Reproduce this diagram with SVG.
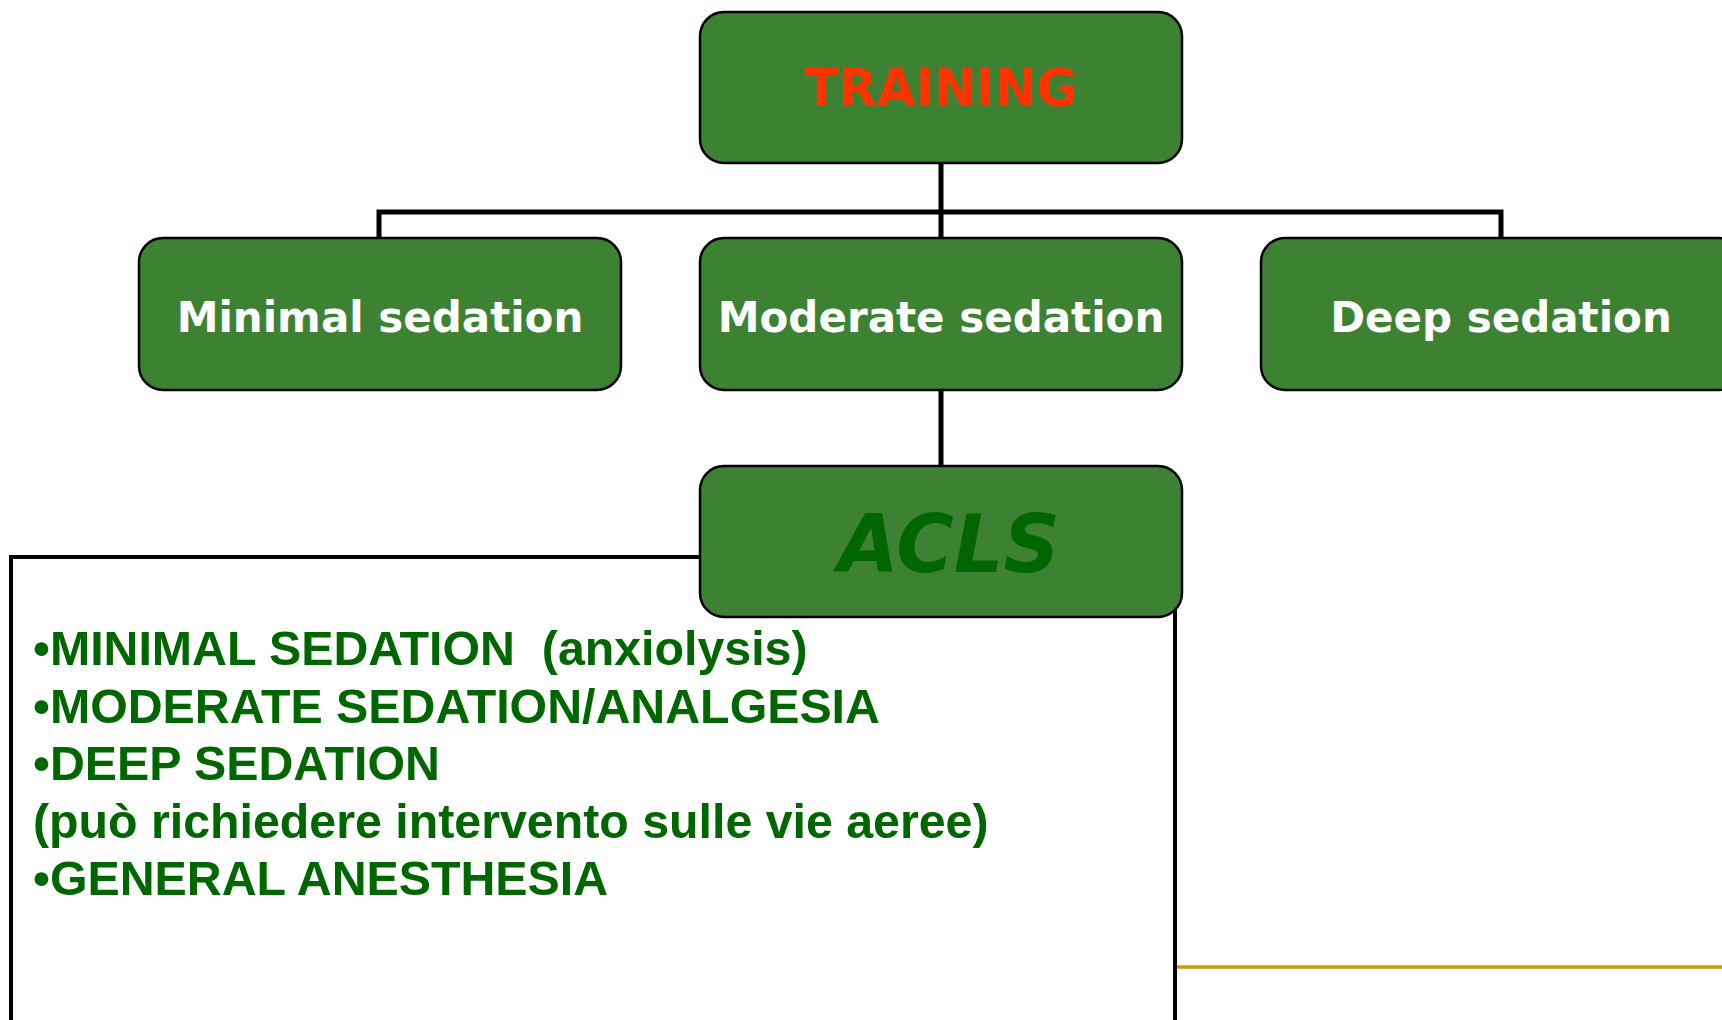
<svg xmlns="http://www.w3.org/2000/svg" width="1722" height="1020" viewBox="0 0 1722 1020">
<style>
.box{fill:#3D8133;stroke:#000;stroke-width:2.5}
.lbl{font-family:"DejaVu Sans","Verdana",sans-serif;font-weight:bold;font-size:42px;fill:#fff;text-anchor:middle}
.conn{stroke:#000;stroke-width:5;fill:none}
.body{font-family:"Liberation Sans",Arial,sans-serif;font-weight:bold;font-size:48.3px;fill:#006600;white-space:pre}
</style>
<rect width="1722" height="1020" fill="#fff"/>
<g id="connectors">
<line class="conn" x1="941" y1="163" x2="941" y2="238"/>
<polyline class="conn" points="379,238 379,212 1501,212 1501,238"/>
<line class="conn" x1="941" y1="390" x2="941" y2="466"/>
</g>
<g id="textbox">
<rect x="11" y="557" width="1164" height="480" fill="#fff" stroke="#000" stroke-width="4"/>
<text class="body" x="33" y="665" xml:space="preserve">•MINIMAL SEDATION  (anxiolysis)</text>
<text class="body" x="33" y="722.5">•MODERATE SEDATION/ANALGESIA</text>
<text class="body" x="33" y="780">•DEEP SEDATION</text>
<text class="body" x="33" y="837.5">(può richiedere intervento sulle vie aeree)</text>
<text class="body" x="33" y="895">•GENERAL ANESTHESIA</text>
</g>
<line x1="1177" y1="967" x2="1722" y2="967" stroke="#CC9900" stroke-width="3.5"/>
<g id="training">
<rect class="box" x="700" y="12" width="482" height="151" rx="24"/>
<text x="941" y="106" font-family="'Comic Sans MS','DejaVu Sans',sans-serif" font-weight="bold" font-size="51" fill="#FF3300" text-anchor="middle" textLength="273" lengthAdjust="spacingAndGlyphs">TRAINING</text>
</g>
<g id="minimal">
<rect class="box" x="139" y="238" width="482" height="152" rx="24"/>
<text class="lbl" x="380" y="332">Minimal sedation</text>
</g>
<g id="moderate">
<rect class="box" x="700" y="238" width="482" height="152" rx="24"/>
<text class="lbl" x="941" y="332">Moderate sedation</text>
</g>
<g id="deep">
<rect class="box" x="1261" y="238" width="482" height="152" rx="24"/>
<text class="lbl" x="1501" y="332">Deep sedation</text>
</g>
<g id="acls">
<rect class="box" x="700" y="466" width="482" height="151" rx="24"/>
<text x="949" y="572" font-family="'Comic Sans MS','DejaVu Sans',sans-serif" font-weight="bold" font-style="italic" font-size="80" fill="#006600" text-anchor="middle" textLength="222" lengthAdjust="spacingAndGlyphs">ACLS</text>
</g>
</svg>
